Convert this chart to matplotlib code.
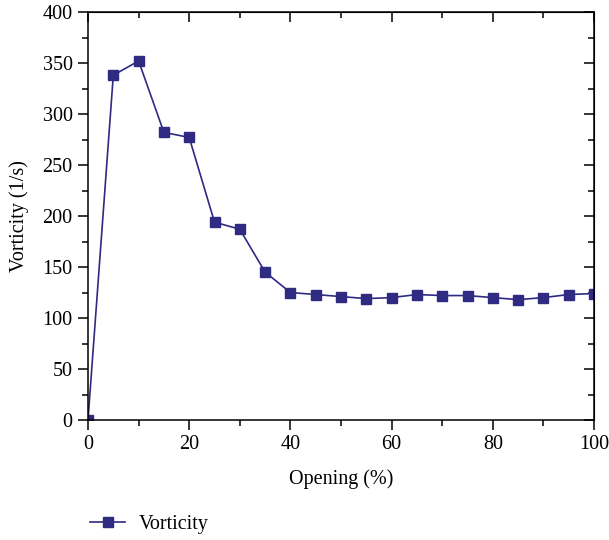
import matplotlib
matplotlib.use("Agg")
import matplotlib.pyplot as plt
from matplotlib.ticker import MultipleLocator

opening = [0, 5, 10, 15, 20, 25, 30, 35, 40, 45, 50, 55, 60, 65, 70, 75, 80, 85, 90, 95, 100]
vorticity = [0, 338, 352, 282, 277, 194, 187, 145, 125, 123, 121, 119, 120, 123, 122, 122,
             120, 118, 120, 123, 124]

plt.rcParams["font.family"] = ["Liberation Serif", "DejaVu Serif"]
plt.rcParams["font.size"] = 14.5

color = "#2f2a82"

fig = plt.figure(figsize=(6.09, 5.40), dpi=100)
ax = fig.add_axes([88 / 609, 120 / 540, 506 / 609, 408 / 540])

ax.plot(opening, vorticity, "s-", color=color, linewidth=1.2, markersize=6.5,
        label="Vorticity")

ax.set_xlim(0, 100)
ax.set_ylim(0, 400)
ax.xaxis.set_major_locator(MultipleLocator(20))
ax.xaxis.set_minor_locator(MultipleLocator(10))
ax.yaxis.set_major_locator(MultipleLocator(50))
ax.yaxis.set_minor_locator(MultipleLocator(25))

ax.set_xlabel("Opening (%)", labelpad=11)
ax.set_ylabel("Vorticity (1/s)", labelpad=10)

for side in ax.spines.values():
    side.set_linewidth(1.1)

ax.tick_params(which="both", direction="out", width=1.1, top=False, right=False, pad=4)
ax.tick_params(which="major", length=7)
ax.tick_params(which="minor", length=4)

# mirrored inward ticks on top and right
ax_top = ax.secondary_xaxis("top")
ax_top.xaxis.set_major_locator(MultipleLocator(20))
ax_top.xaxis.set_minor_locator(MultipleLocator(10))
ax_top.tick_params(which="both", direction="in", width=1.1, labeltop=False)
ax_top.tick_params(which="major", length=7)
ax_top.tick_params(which="minor", length=4)
ax_right = ax.secondary_yaxis("right")
ax_right.yaxis.set_major_locator(MultipleLocator(50))
ax_right.yaxis.set_minor_locator(MultipleLocator(25))
ax_right.tick_params(which="both", direction="in", width=1.1, labelright=False)
ax_right.tick_params(which="major", length=7)
ax_right.tick_params(which="minor", length=4)

handles, labels = ax.get_legend_handles_labels()
fig.legend(handles, labels, loc="lower left", bbox_to_anchor=(72 / 609, -0.022),
           frameon=False, handlelength=1.75, handletextpad=0.65)

fig.savefig("out.png", dpi=100)
